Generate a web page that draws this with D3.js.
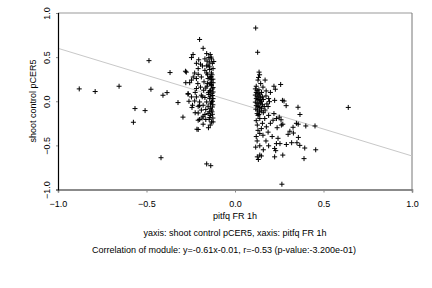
<!DOCTYPE html>
<html><head><meta charset="utf-8">
<script src="https://cdn.jsdelivr.net/npm/d3@7"></script>
<style>body{margin:0;background:#fff}svg{display:block}text{font-family:"Liberation Sans",Arial,sans-serif;fill:#000}</style>
</head><body>
<svg id="c" width="432" height="288"></svg>
<script>
const xTicks = [-1.0, -0.5, 0.0, 0.5, 1.0];
const yTicks = [-1.0, -0.5, 0.0, 0.5, 1.0];
const xLabel = "pitfq FR 1h";
const yLabel = "shoot control pCER5";
const caption1 = "yaxis: shoot control pCER5, xaxis: pitfq FR 1h";
const caption2 = "Correlation of module: y=-0.61x-0.01, r=-0.53 (p-value:-3.200e-01)";
const fitSlope = -0.61, fitIntercept = -0.01;
const points = [
[-0.88,0.14],[-0.79,0.11],[-0.655,0.17],[-0.486,0.46],[-0.475,0.136],[-0.565,-0.083],[-0.574,-0.238],[-0.508,-0.106],[-0.418,-0.64],[-0.367,0.325],[-0.407,0.068],[-0.384,0.098],[-0.322,-0.015],[-0.28,0.34],[-0.278,0.21],[-0.294,-0.18],[-0.265,0.08],[-0.26,0.0],[-0.256,0.21],[-0.275,0.33],
[-0.2,0.70],[-0.18,0.60],[-0.237,0.53],[-0.246,0.495],[-0.16,0.54],[-0.14,0.53],[-0.205,0.47],[-0.17,0.48],[-0.148,0.495],[-0.133,0.48],[-0.158,0.455],[-0.143,0.445],[-0.218,0.43],[-0.195,0.42],[-0.184,0.40],[-0.152,0.41],[-0.128,0.43],[-0.208,0.37],[-0.17,0.35],[-0.143,0.36],[-0.124,0.37],[-0.228,0.32],[-0.208,0.305],[-0.16,0.32],[-0.133,0.32],[-0.236,0.275],[-0.218,0.257],[-0.19,0.275],[-0.152,0.257],[-0.133,0.245],[-0.246,0.24],[-0.14,0.21],[-0.124,0.21],[-0.133,0.18],[-0.158,0.17],[-0.124,0.155],[-0.218,0.144],[-0.177,0.125],[-0.143,0.117],[-0.124,0.105],[-0.265,0.087],[-0.19,0.068],[-0.148,0.076],[-0.128,0.065],[-0.246,0.049],[-0.218,0.049],[-0.17,0.042],[-0.143,0.03],[-0.124,0.03],[-0.228,0.003],[-0.2,-0.008],[-0.16,-0.008],[-0.133,-0.008],[-0.24,-0.045],[-0.208,-0.057],[-0.18,-0.045],[-0.152,-0.057],[-0.128,-0.065],[-0.243,-0.07],[-0.19,-0.10],[-0.165,-0.094],[-0.133,-0.10],[-0.208,-0.133],[-0.152,-0.14],[-0.128,-0.148],[-0.18,-0.17],[-0.143,-0.185],[-0.165,-0.207],[-0.2,-0.207],[-0.124,-0.234],[-0.208,-0.215],[-0.186,-0.19],[-0.146,-0.205],[-0.133,-0.235],[-0.208,-0.32],[-0.215,-0.317],[-0.16,-0.71],[-0.137,-0.73],
[-0.135,0.28],[-0.13,0.3],[-0.14,0.27],[-0.125,0.25],[-0.135,0.19],[-0.128,0.14],[-0.138,0.12],[-0.13,0.09],[-0.14,0.05],[-0.127,0.0],[-0.138,-0.03],[-0.125,-0.04],[-0.14,-0.08],[-0.13,-0.12],[-0.138,-0.16],[-0.125,-0.19],[-0.145,-0.12],[-0.15,0.1],[-0.155,0.2],[-0.16,0.4],[-0.145,0.39],[-0.12,0.45],[-0.135,0.5],[-0.155,0.3],[-0.165,0.15],[-0.175,0.22],[-0.185,0.05],[-0.195,0.16],[-0.21,0.2],[-0.225,0.1],[-0.2,-0.05],[-0.17,-0.15],[-0.15,-0.3],[-0.14,-0.27],[-0.225,-0.13],[-0.18,-0.26],
[0.117,0.83],[0.128,0.555],[0.136,0.33],[0.139,0.30],[0.133,0.27],[0.13,0.24],[0.17,0.24],[0.145,0.2],[0.12,0.17],[0.158,0.16],[0.22,0.17],[0.228,0.136],[0.258,0.19],[0.176,0.117],[0.2,0.1],[0.224,0.01],[0.268,0.01],[0.195,-0.005],[0.187,-0.06],
[0.115,0.14],[0.125,0.12],[0.135,0.13],[0.12,0.1],[0.13,0.09],[0.14,0.08],[0.15,0.1],[0.115,0.07],[0.125,0.05],[0.135,0.06],[0.145,0.04],[0.155,0.05],[0.12,0.03],[0.13,0.02],[0.14,0.01],[0.15,0.0],[0.16,0.02],[0.115,-0.01],[0.125,-0.02],[0.135,-0.03],[0.145,-0.02],[0.155,-0.04],[0.12,-0.05],[0.13,-0.06],[0.14,-0.07],[0.15,-0.08],[0.165,-0.06],[0.118,-0.09],[0.128,-0.1],[0.138,-0.12],[0.148,-0.11],[0.17,-0.1],[0.125,-0.14],[0.135,-0.15],[0.16,-0.13],[0.18,-0.03],[0.175,0.06],[0.19,0.03],
[0.13,-0.16],[0.14,-0.196],[0.168,-0.196],[0.19,-0.16],[0.215,-0.215],[0.22,-0.14],[0.234,-0.196],[0.262,-0.27],[0.126,-0.27],[0.149,-0.31],[0.177,-0.29],[0.187,-0.35],[0.158,-0.385],[0.14,-0.365],[0.243,-0.42],[0.234,-0.48],[0.224,-0.535],[0.117,-0.52],[0.14,-0.505],[0.19,-0.505],[0.126,-0.63],[0.14,-0.61],[0.224,-0.63],[0.23,-0.56],[0.132,-0.66],[0.149,-0.62],[0.27,-0.61],[0.39,-0.65],[0.265,-0.94],[0.12,-0.22],[0.13,-0.33],[0.12,-0.4],[0.155,-0.25],[0.2,-0.25],[0.21,-0.4],[0.175,-0.45],[0.125,-0.45],[0.16,-0.55],
[0.277,0.003],[0.289,-0.05],[0.356,-0.068],[0.64,-0.07],[0.367,-0.15],[0.27,-0.26],[0.328,-0.295],[0.347,-0.25],[0.357,-0.26],[0.40,-0.28],[0.452,-0.28],[0.30,-0.375],[0.33,-0.36],[0.358,-0.41],[0.366,-0.50],[0.254,-0.48],[0.29,-0.49],[0.32,-0.47],[0.35,-0.47],[0.394,-0.53],[0.456,-0.55],[0.25,-0.18],[0.26,-0.21],[0.31,-0.34],[0.238,-0.3]
];

const svg = d3.select("#c");
const L = 58, R = 412, T = 13, B = 189.5;
const x = d3.scaleLinear().domain([-1, 1]).range([L, R]);
const y = d3.scaleLinear().domain([-1, 1]).range([B, T]);
const fmt = d3.format(".1f");

svg.append("line").attr("x1", L).attr("x2", R).attr("y1", T).attr("y2", T).attr("stroke", "#999").attr("stroke-width", 1);
svg.append("line").attr("x1", R).attr("x2", R).attr("y1", T).attr("y2", B).attr("stroke", "#777").attr("stroke-width", 1);

svg.append("line")
  .attr("x1", x(-1)).attr("y1", y(fitSlope * -1 + fitIntercept))
  .attr("x2", x(1)).attr("y2", y(fitSlope * 1 + fitIntercept))
  .attr("stroke", "#c8c8c8").attr("stroke-width", 1);

svg.append("g").selectAll("path").data(points).join("path")
  .attr("d", d => { const px = x(d[0]), py = y(d[1]); return `M${px-2.5},${py}H${px+2.5}M${px},${py-2.5}V${py+2.5}`; })
  .attr("stroke", "#000").attr("stroke-width", 1).attr("fill", "none");

const gx = svg.append("g").attr("transform", `translate(0,${B})`)
  .call(d3.axisBottom(x).tickValues(xTicks).tickFormat(fmt).tickSize(3).tickPadding(8));
gx.select(".domain").attr("stroke", "#666").attr("stroke-width", 1.5);
gx.selectAll(".tick line").attr("stroke", "#888");
gx.selectAll("text").attr("font-size", 9).attr("font-family", "Liberation Sans, Arial, sans-serif");

const gy = svg.append("g").attr("transform", `translate(${L},0)`)
  .call(d3.axisLeft(y).tickValues(yTicks).tickFormat(fmt).tickSize(2).tickPadding(4));
gy.select(".domain").attr("stroke", "#000").attr("stroke-width", 1.2);
gy.selectAll(".tick line").attr("stroke", "#888");
gy.selectAll("text").attr("font-size", 9).attr("font-family", "Liberation Sans, Arial, sans-serif")
  .attr("text-anchor", "middle").attr("dy", 0).attr("x", 0)
  .attr("transform", "translate(-8,0) rotate(-90)");

svg.append("text").attr("x", 235).attr("y", 219).attr("text-anchor", "middle").attr("font-size", 9).text(xLabel);
svg.append("text").attr("transform", "translate(36,101) rotate(-90)").attr("text-anchor", "middle").attr("font-size", 9).text(yLabel);
svg.append("text").attr("x", 235).attr("y", 236).attr("text-anchor", "middle").attr("font-size", 9).text(caption1);
svg.append("text").attr("x", 224).attr("y", 253).attr("text-anchor", "middle").attr("font-size", 9).text(caption2);
</script>
</body></html>
